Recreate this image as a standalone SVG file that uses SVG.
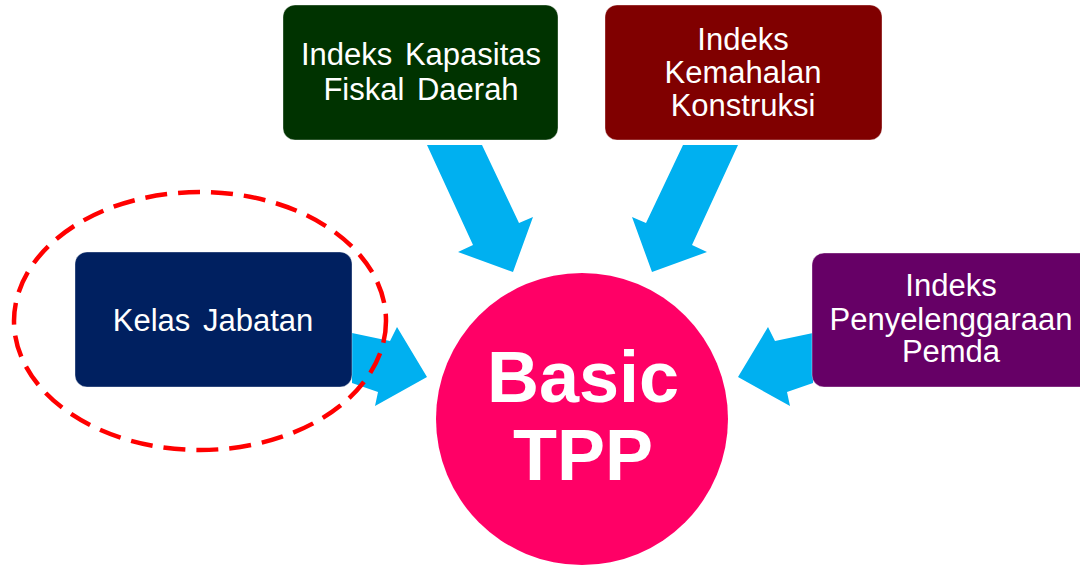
<svg xmlns="http://www.w3.org/2000/svg" width="1080" height="565" viewBox="0 0 1080 565">
  <style>
    .box { stroke: #ffffff; stroke-opacity: 0.35; stroke-width: 1; }
    .lbl { font-family: "Liberation Sans", Arial, sans-serif; font-size: 31px; fill: #ffffff; text-anchor: middle; word-spacing: 4px; }
    .big { font-family: "Liberation Sans", Arial, sans-serif; font-size: 72px; font-weight: bold; fill: #ffffff; text-anchor: middle; }
    .arrow { fill: #00B0F0; }
  </style>
  <rect width="1080" height="565" fill="#ffffff"/>
  <g id="connectors">
    <polygon class="arrow" points="427,145 482,145 519,223 533,217 513,272 458,252 473,245"/>
    <polygon class="arrow" points="738,145 683,145 646,223 632,217 652,272 707,252 692,245"/>
    <polygon class="arrow" points="352,333 390,341 397,327 427,377 375,406 378,392 352,383"/>
    <polygon class="arrow" points="813,333 775,341 768,327 738,377 790,406 787,392 813,383"/>
  </g>
  <g id="node-fiskal">
    <rect class="box" x="283" y="5" width="275" height="135" rx="12" fill="#003300"/>
    <text class="lbl" x="421" y="65">Indeks Kapasitas</text>
    <text class="lbl" x="421" y="100">Fiskal Daerah</text>
  </g>
  <g id="node-kemahalan">
    <rect class="box" x="605" y="5" width="277" height="135" rx="12" fill="#800000"/>
    <text class="lbl" x="743" y="50">Indeks</text>
    <text class="lbl" x="743" y="83">Kemahalan</text>
    <text class="lbl" x="743" y="116">Konstruksi</text>
  </g>
  <g id="node-kelas">
    <rect class="box" x="75" y="252" width="277" height="135" rx="12" fill="#002060"/>
    <text class="lbl" x="213" y="331">Kelas Jabatan</text>
  </g>
  <g id="node-pemda">
    <rect class="box" x="812" y="253" width="280" height="134" rx="12" fill="#660066"/>
    <text class="lbl" x="951" y="296">Indeks</text>
    <text class="lbl" x="951" y="330">Penyelenggaraan</text>
    <text class="lbl" x="951" y="362">Pemda</text>
  </g>
  <g id="node-basic">
    <circle cx="582" cy="419" r="146" fill="#FF0066"/>
    <text class="big" x="583" y="402">Basic</text>
    <text class="big" x="583" y="480">TPP</text>
  </g>
  <g id="highlight">
    <ellipse cx="200" cy="321" rx="186" ry="129" fill="none" stroke="#FF0000" stroke-width="4.5" stroke-dasharray="22 11"/>
  </g>
</svg>
